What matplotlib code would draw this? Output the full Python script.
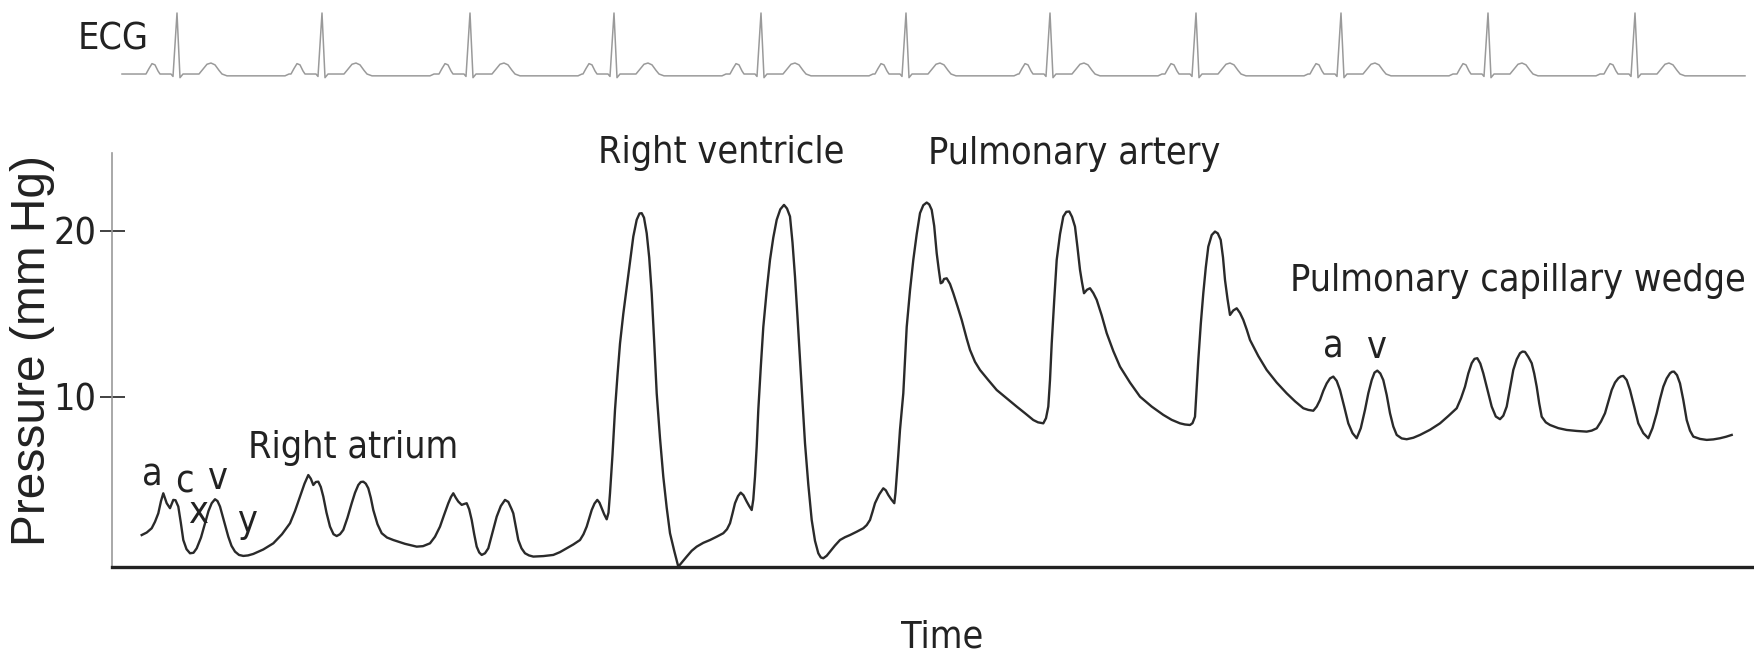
import os
import matplotlib
matplotlib.use("Agg")
import matplotlib.pyplot as plt
from matplotlib import font_manager as fm

plt.rcParams.update({
    "font.family": "sans-serif",
    "font.sans-serif": ["Liberation Sans", "DejaVu Sans"],
    "axes.spines.top": False, "axes.spines.right": False,
})

# ── pressure trace (time in arbitrary units, mm Hg) ──
# right atrium
t_ra = [29.7, 34.7, 39.7, 43.0, 46.3, 49.0, 51.3, 54.7, 58.0, 61.3, 63.5, 66.3,
        68.8, 71.3, 74.5, 78.0, 81.5, 84.7, 89.0, 93.0, 96.5, 99.7, 103.0, 105.5,
        108.0, 112.0, 116.3, 119.5, 123.0, 127.0, 131.3, 136.0, 141.3, 151.3,
        161.3, 170.0, 178.0, 183.0, 188.0, 192.5, 196.3, 198.8, 201.3, 203.8,
        206.3, 208.8, 211.3, 214.5, 218.0, 221.5, 224.7, 228.0, 231.3, 235.5,
        239.7, 243.0, 246.3, 248.8, 251.3, 253.8, 256.3, 258.8, 261.3, 265.5,
        269.7, 275.0, 281.3, 293.0, 304.7, 311.0, 318.0, 323.0, 328.0, 332.0,
        336.3, 339.0, 341.3, 343.8, 346.3, 349.7, 352.0, 354.7, 357.2, 359.7,
        362.2, 364.7, 367.2, 369.7, 373.0, 376.3, 380.5, 384.7, 388.8, 393.0,
        396.3, 399.7]
p_ra = [1.65, 1.80, 2.06, 2.45, 2.96, 3.70, 4.17, 3.57, 3.27, 3.77, 3.75, 3.37,
        2.40, 1.35, 0.80, 0.55, 0.58, 0.85, 1.50, 2.36, 3.10, 3.57, 3.81, 3.70,
        3.37, 2.50, 1.55, 1.00, 0.65, 0.45, 0.39, 0.42, 0.51, 0.78,
        1.15, 1.70, 2.36, 3.10, 3.97, 4.75, 5.27, 5.05, 4.67, 4.85,
        4.87, 4.55, 3.97, 3.00, 2.16, 1.70, 1.59, 1.70, 1.96, 2.70,
        3.57, 4.20, 4.67, 4.85, 4.87, 4.75, 4.47, 3.90, 3.16, 2.30,
        1.76, 1.50, 1.35, 1.12, 0.95, 0.98, 1.15, 1.55, 2.16, 2.85,
        3.57, 3.95, 4.17, 3.90, 3.67, 3.47, 3.52, 3.57, 3.20, 2.56,
        1.70, 0.95, 0.60, 0.45, 0.55, 0.85, 1.80, 2.76, 3.40, 3.77,
        3.65, 3.20]

# right ventricle
t_rv = [401.3, 406.3, 409.5, 413.0, 417.0, 421.3, 431.3, 441.3, 448.0, 454.7,
        461.3, 468.0, 471.5, 474.7, 477.2, 479.7, 482.5, 485.3, 487.5, 489.7,
        492.2, 494.7, 496.5, 498.0, 500.5, 503.0, 505.5, 508.0, 511.3, 514.7,
        518.0, 521.3, 524.7, 527.5, 529.7, 532.0, 534.7, 537.2, 539.7, 542.2,
        544.7, 548.0, 551.3, 554.7, 558.0, 562.2, 566.3, 570.5, 574.7, 579.7,
        584.7, 591.3, 598.0, 604.7, 611.3, 615.0, 618.0, 620.5, 623.0, 626.0,
        628.7, 631.5, 634.7, 637.2, 639.7, 641.3, 643.0, 644.7, 646.3, 648.8,
        651.3, 654.7, 658.0, 661.3, 664.7, 668.3, 672.0, 675.0, 678.0, 680.5,
        683.0, 685.5, 688.0, 690.5, 693.0, 696.3, 699.7, 703.0, 706.3, 708.8,
        711.3, 714.7, 718.0, 723.0, 728.0, 733.0, 738.0, 744.7, 751.3, 754.7,
        758.0, 760.5, 763.0, 767.2, 771.3, 773.8, 776.3, 779.3, 782.3, 783.5]
p_rv = [2.96, 1.35, 0.85, 0.55, 0.42, 0.35, 0.38, 0.45, 0.62, 0.85,
        1.08, 1.35, 1.70, 2.16, 2.65, 3.16, 3.55, 3.77, 3.60, 3.27,
        2.90, 2.60, 3.00, 4.17, 6.5, 9.2, 11.3, 13.2, 15.0, 16.6,
        18.2, 19.66, 20.67, 21.05, 21.07, 20.8, 19.86, 18.4, 16.24, 13.3,
        10.2, 7.5, 5.17, 3.3, 1.76, 0.7, -0.26, 0.05, 0.35, 0.70,
        0.95, 1.18, 1.35, 1.55, 1.76, 2.0, 2.36, 2.95, 3.57, 4.00,
        4.21, 4.05, 3.67, 3.40, 3.16, 3.8, 5.17, 7.0, 9.2, 11.8,
        14.2, 16.4, 18.25, 19.6, 20.67, 21.3, 21.57, 21.35, 20.87, 19.3,
        17.24, 14.8, 12.2, 9.7, 7.19, 4.7, 2.56, 1.3, 0.55, 0.3,
        0.25, 0.40, 0.65, 1.02, 1.35, 1.52, 1.65, 1.85, 2.06, 2.25,
        2.56, 3.05, 3.57, 4.10, 4.47, 4.35, 4.07, 3.80, 3.57, 4.2]

# pulmonary artery
t_pa = [784.7, 786.3, 788.0, 789.7, 791.3, 793.0, 794.7, 798.0, 801.3, 804.7,
        808.0, 811.3, 814.7, 817.2, 819.7, 822.2, 824.7, 826.7, 828.7, 830.5,
        832.0, 834.7, 838.0, 841.3, 845.5, 849.7, 854.7, 858.0, 863.0, 868.0,
        876.3, 884.7, 894.7, 904.7, 913.0, 921.3, 926.0, 931.3, 934.0, 936.3,
        938.0, 939.7, 942.2, 944.7, 948.0, 951.3, 954.3, 957.3, 960.0, 963.0,
        965.5, 968.0, 970.0, 972.0, 975.0, 978.0, 981.3, 984.7, 989.7, 994.7,
        1001.3, 1008.0, 1018.0, 1028.0, 1039.7, 1051.3, 1059.7, 1068.0, 1073.0,
        1078.0, 1080.5, 1083.0, 1084.7, 1086.3, 1088.8, 1091.3, 1093.8, 1096.3,
        1099.7, 1103.0, 1105.8, 1108.7, 1111.0, 1113.0, 1115.5, 1118.0, 1121.3,
        1124.7, 1128.0, 1131.3, 1134.7, 1138.0, 1146.3, 1154.7, 1164.7, 1174.7,
        1183.0, 1191.3, 1196.3, 1201.3]
p_pa = [5.17, 6.5, 8.0, 9.1, 10.2, 12.2, 14.2, 16.4, 18.25, 19.8,
        21.07, 21.55, 21.71, 21.6, 21.27, 20.3, 18.65, 17.7, 16.84, 16.9,
        17.10, 17.14, 16.8, 16.24, 15.45, 14.63, 13.5, 12.82, 12.1, 11.61,
        11.0, 10.4, 9.9, 9.4, 9.0, 8.59, 8.45, 8.39, 8.7, 9.4,
        11.0, 13.2, 15.8, 18.25, 19.8, 20.87, 21.15, 21.17, 20.85, 20.26,
        19.0, 17.65, 16.9, 16.24, 16.45, 16.54, 16.25, 15.84, 14.9, 13.83,
        12.75, 11.81, 10.85, 10.0, 9.4, 8.9, 8.6, 8.39, 8.32,
        8.29, 8.4, 8.79, 10.5, 12.2, 14.4, 16.24, 17.8, 19.05,
        19.75, 19.96, 19.85, 19.46, 18.4, 17.04, 15.9, 14.93, 15.2,
        15.33, 15.05, 14.63, 14.05, 13.42, 12.45, 11.61, 10.85, 10.2,
        9.72, 9.3, 9.2, 9.15]

# pulmonary capillary wedge
t_pcw = [1204.7, 1208.0, 1211.3, 1214.7, 1218.0, 1221.3, 1224.7, 1228.0, 1232.2,
         1236.3, 1240.5, 1244.7, 1248.8, 1253.0, 1256.3, 1259.7, 1262.5, 1265.3,
         1268.3, 1271.3, 1274.7, 1278.0, 1281.3, 1284.7, 1289.7, 1294.7, 1301.3,
         1308.0, 1318.0, 1328.0, 1336.3, 1344.7, 1349.0, 1353.0, 1356.3, 1359.7,
         1362.5, 1365.3, 1368.3, 1371.3, 1375.5, 1379.7, 1383.8, 1388.0, 1391.3,
         1394.7, 1398.0, 1401.3, 1404.7, 1408.0, 1410.5, 1413.0, 1416.3, 1419.7,
         1422.2, 1424.7, 1427.2, 1429.7, 1433.8, 1438.0, 1446.3, 1454.7, 1464.7,
         1474.7, 1479.7, 1484.7, 1489.0, 1493.0, 1496.3, 1499.7, 1503.0, 1506.3,
         1508.8, 1511.3, 1514.7, 1518.0, 1522.2, 1526.3, 1531.3, 1536.3, 1540.5,
         1544.7, 1548.0, 1551.3, 1554.7, 1558.0, 1560.0, 1562.0, 1565.0, 1568.0,
         1571.3, 1574.7, 1578.0, 1581.3, 1588.0, 1594.7, 1601.3, 1608.0, 1614.0,
         1619.7]
p_pcw = [9.4, 9.8, 10.35, 10.8, 11.1, 11.21, 10.95, 10.4, 9.4,
         8.39, 7.8, 7.49, 8.1, 9.2, 10.2, 11.0, 11.45, 11.57,
         11.4, 11.0, 10.1, 9.0, 8.2, 7.69, 7.48, 7.43, 7.52,
         7.69, 8.0, 8.39, 8.83, 9.3, 9.9, 10.6, 11.4, 12.02,
         12.28, 12.32, 12.0, 11.41, 10.4, 9.4, 8.8, 8.64, 8.85,
         9.4, 10.5, 11.61, 12.25, 12.62, 12.72, 12.7, 12.4, 12.02,
         11.4, 10.6, 9.6, 8.79, 8.45, 8.29, 8.1, 7.99, 7.93,
         7.89, 7.95, 8.09, 8.5, 9.0, 9.7, 10.4, 10.85, 11.11,
         11.22, 11.25, 11.0, 10.4, 9.4, 8.39, 7.8, 7.49, 8.1,
         9.0, 9.85, 10.6, 11.1, 11.41, 11.5, 11.51, 11.3, 10.8,
         9.8, 8.59, 7.95, 7.59, 7.45, 7.39, 7.42, 7.49, 7.58,
         7.69]

# ── ECG: R-wave times and one beat shape (offset from R, mV-ish) ──
r_times = [65, 210, 358, 502, 649, 794, 938, 1084, 1229, 1376, 1523]
beat_off = [-31, -28, -25, -22, -19, -17, -6, -4, 0, 3, 6,
            22, 26, 30, 34, 38, 42, 45, 50, 108, 112]
beat_amp = [0, 0.09, 0.17, 0.15, 0.05, 0, 0, -0.04, 1.0, -0.06, 0,
            0, 0.08, 0.16, 0.18, 0.15, 0.06, 0, -0.03, -0.03, 0]
ecg_start, ecg_end = 10, 1633


def find_font(names):
    for f in fm.fontManager.ttflist:
        if os.path.basename(f.fname) in names:
            return f.fname
    return None


narrow = find_font(["LiberationSansNarrow-Regular.ttf", "RobotoCondensed-Regular.ttf",
                    "DejaVuSansCondensed.ttf"])
if narrow:
    lab = fm.FontProperties(fname=narrow, size=32)
    if "DejaVu" in narrow:
        lab.set_size(27)
else:
    lab = fm.FontProperties(family="Liberation Sans", size=26.5)
ylab = fm.FontProperties(family="Liberation Sans", size=34.5)

W, H = 1754, 654
fig = plt.figure(figsize=(W / 100, H / 100), dpi=100)
ax = fig.add_axes([112 / W, (H - 566.7) / H, (W - 112) / W, (566.7 - 153) / H])
ax_ecg = fig.add_axes([112 / W, (H - 90) / H, (W - 112) / W, 90 / H])

t_all = t_ra + t_rv + t_pa + t_pcw
p_all = p_ra + p_rv + p_pa + p_pcw
ax.plot(t_all, p_all, color="#2a2a2a", lw=1.7, solid_joinstyle="round")

ax.set_xlim(0, 1642)
ax.set_ylim(-0.26, 24.7)
ax.set_xticks([])
ax.set_yticks([10, 20])
ax.set_yticklabels(["10", "20"], fontproperties=lab)
ax.tick_params(axis="y", direction="inout", length=18, width=1.3, color="#333",
               pad=2, labelcolor="#222")
ax.spines["left"].set_color("#9a9a9a")
ax.spines["left"].set_linewidth(1.2)
ax.spines["bottom"].set_color("#222")
ax.spines["bottom"].set_linewidth(2.4)

# ── labels on the trace ──
ax.text(136, 6.30, "Right atrium", fontproperties=lab, color="#222")
for s, x, y in [("a", 29.7, 4.61), ("c", 63, 4.19), ("x", 76, 2.38),
                ("v", 96, 4.43), ("y", 124.7, 1.83),
                ("a", 1211, 12.34), ("v", 1255, 12.34)]:
    ax.text(x, y, s, fontproperties=lab, color="#222")
ax.text(486.5, 24.1, "Right ventricle", fontproperties=lab, color="#222")
ax.text(816.5, 24.04, "Pulmonary artery", fontproperties=lab, color="#222")
ax.text(1178, 16.38, "Pulmonary capillary wedge", fontproperties=lab, color="#222")

# ── ECG strip ──
et, ev = [ecg_start], [0]
for r in r_times:
    for o, a in zip(beat_off, beat_amp):
        if r + o <= ecg_end:
            et.append(r + o)
            ev.append(a)
et.append(ecg_end)
ev.append(-0.03)
ax_ecg.plot(et, ev, color="#9a9a9a", lw=1.1)
ax_ecg.set_xlim(0, 1642)
ax_ecg.set_ylim(-0.262, 1.213)
ax_ecg.axis("off")

fig.text(78 / W, (H - 50) / H, "ECG", fontproperties=lab, color="#222",
         va="baseline")
fig.text(942 / W, (H - 648) / H, "Time", fontproperties=lab, color="#222",
         ha="center", va="baseline")
fig.text(33 / W, (H - 351) / H, "Pressure (mm Hg)", fontproperties=ylab,
         color="#222", rotation=90, ha="center", va="center")

fig.savefig("out.png", dpi=100)
